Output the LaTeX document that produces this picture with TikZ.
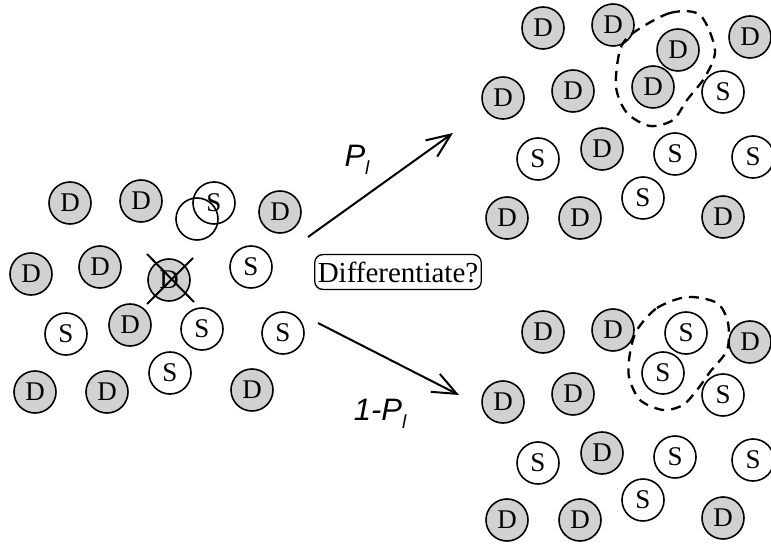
\documentclass[tikz,border=0pt]{standalone}
\usepackage{fontspec}
\setmainfont{Liberation Serif}
\newfontfamily\labelfont{Liberation Sans}
\usetikzlibrary{arrows.meta}

\begin{document}
\begin{tikzpicture}[x=1pt, y=-1pt,
    dcell/.style={draw, circle, fill=black!18, line width=1.6pt, minimum size=42pt, inner sep=0pt, font=\fontsize{27}{27}\selectfont},
    scell/.style={dcell, fill=none},
    blob/.style={line width=2.3pt, dash pattern=on 10pt off 7pt},
    move/.style={line width=2pt, -{Straight Barb[length=24pt,width=20pt,line width=2pt]}},
    prob/.style={font=\labelfont\itshape\fontsize{31}{31}\selectfont, inner sep=0pt}]
\useasboundingbox (0,0) rectangle (771,545);

% cluster before the decision
\node[scell] (L0) at (197,219) {};
\node[dcell] (L1) at (70,203) {D};
\node[dcell] (L2) at (141,201) {D};
\node[scell] (L3) at (214,203) {S};
\node[dcell] (L4) at (280,212) {D};
\node[dcell] (L5) at (31,274) {D};
\node[dcell] (L6) at (100,267) {D};
\node[dcell] (L7) at (169,280) {D};
\node[scell] (L8) at (251,267) {S};
\node[scell] (L9) at (66,334) {S};
\node[dcell] (L10) at (130,325) {D};
\node[scell] (L11) at (202,329) {S};
\node[scell] (L12) at (283,333) {S};
\node[scell] (L13) at (170,373) {S};
\node[dcell] (L14) at (35,392) {D};
\node[dcell] (L15) at (107,392) {D};
\node[dcell] (L16) at (252,390) {D};
\draw[line width=2pt] ([shift={(-22,-26)}]L7.center) -- ([shift={(25,22)}]L7.center);
\draw[line width=2pt] ([shift={(-22,24)}]L7.center) -- ([shift={(24,-22)}]L7.center);

% decision
\node[draw, rounded corners=8pt, line width=1.3pt, inner xsep=3pt, inner ysep=7pt, font=\fontsize{29}{29}\selectfont] (Q) at (398,272) {Differentiate?};
\coordinate (up0) at (308,237);
\coordinate (up1) at (453,133);
\coordinate (dn0) at (318,323);
\coordinate (dn1) at (459,395);
\draw[move] (up0) -- (up1);
\draw[move] (dn0) -- (dn1);
\node[prob] (P) at (357,160) {P\raisebox{-8pt}{\fontsize{19}{19}\selectfont l}};
\node[prob] (NP) at (380,414) {1-P\raisebox{-8pt}{\fontsize{19}{19}\selectfont l}};

% differentiated
\node[dcell] (U1) at (543,28) {D};
\node[dcell] (U2) at (613,25) {D};
\node[dcell] (U3) at (678,50) {D};
\node[dcell] (U4) at (750,37) {D};
\node[dcell] (U5) at (503,98) {D};
\node[dcell] (U6) at (573,91) {D};
\node[dcell] (U7) at (653,87) {D};
\node[scell] (U8) at (723,92) {S};
\node[scell] (U9) at (538,159) {S};
\node[dcell] (U10) at (602,149) {D};
\node[scell] (U11) at (675,154) {S};
\node[scell] (U12) at (753,157) {S};
\node[scell] (U13) at (643,198) {S};
\node[dcell] (U14) at (507,218) {D};
\node[dcell] (U15) at (580,218) {D};
\node[dcell] (U16) at (723,217) {D};
\draw[blob] plot[smooth cycle] coordinates {(633,33) (670,13) (700,15) (715,50) (705,77) (687,100) (673,120) (650,126) (627,113) (616,87) (620,50)};

% not differentiated
\node[dcell] (B1) at (543,332) {D};
\node[dcell] (B2) at (613,330) {D};
\node[scell] (B3) at (686,333) {S};
\node[dcell] (B4) at (750,342) {D};
\node[dcell] (B5) at (503,402) {D};
\node[dcell] (B6) at (573,394) {D};
\node[scell] (B7) at (663,373) {S};
\node[scell] (B8) at (723,395) {S};
\node[scell] (B9) at (538,463) {S};
\node[dcell] (B10) at (602,453) {D};
\node[scell] (B11) at (675,457) {S};
\node[scell] (B12) at (753,460) {S};
\node[scell] (B13) at (643,500) {S};
\node[dcell] (B14) at (507,520) {D};
\node[dcell] (B15) at (580,520) {D};
\node[dcell] (B16) at (723,518) {D};
\draw[blob] plot[smooth cycle] coordinates {(637,330) (657,308) (687,297) (717,303) (728,323) (727,350) (710,372) (697,390) (683,405) (663,410) (640,400) (629,377) (630,353)};
\end{tikzpicture}
\end{document}
